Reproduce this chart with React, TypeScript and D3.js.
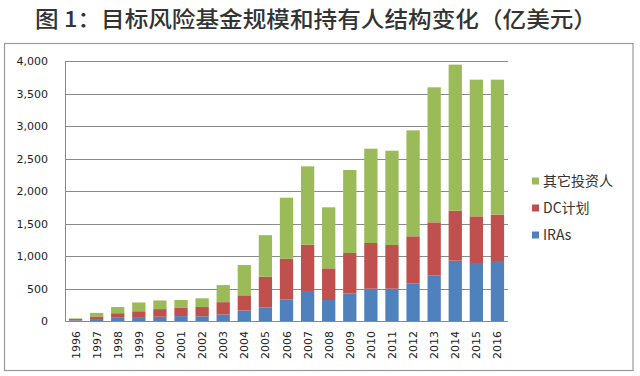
import React from "react";
import * as d3 from "d3";

const years = ["1996","1997","1998","1999","2000","2001","2002","2003","2004","2005","2006","2007","2008","2009","2010","2011","2012","2013","2014","2015","2016"];
const iras = [10, 30, 50, 60, 65, 75, 72, 100, 160, 210, 333, 462, 323, 426, 497, 497, 580, 703, 928, 892, 923];
const dc = [20, 40, 70, 90, 118, 133, 143, 190, 235, 470, 625, 712, 487, 620, 703, 672, 723, 815, 769, 718, 713];
const other = [10, 55, 95, 135, 133, 115, 134, 262, 467, 640, 939, 1205, 939, 1277, 1451, 1451, 1630, 2077, 2247, 2103, 2077];
const yTicks = [0, 500, 1000, 1500, 2000, 2500, 3000, 3500, 4000];
const seriesNames = ["IRAs", "DC计划", "其它投资人"];
const seriesColors = ["#4F81BD", "#C0504D", "#9BBB59"];
const title = "图 1：目标风险基金规模和持有人结构变化（亿美元）";

export default function App() {
  const W = 640, H = 376;
  const left = 65, right = 508, top = 61, bottom = 321;
  const x = d3.scaleBand<string>().domain(years).range([left, right]).paddingInner(0.37).paddingOuter(0.185);
  const y = d3.scaleLinear().domain([0, 4000]).range([bottom, top]);
  const rows = years.map((yr, i) => ({ year: yr, IRAs: iras[i], DC: dc[i], other: other[i] }));
  const stack = d3.stack<any>().keys(["IRAs", "DC", "other"]);
  const layers = stack(rows);
  const fmt = d3.format(",");
  const axisFont = "'DejaVu Sans', Verdana, sans-serif";
  const cjkFont = "'Noto Sans CJK SC', sans-serif";
  const legendOrder = [2, 1, 0];

  return (
    <svg width={W} height={H} style={{ position: "absolute", left: 0, top: 0, background: "#fff" }}>
      <rect x={0} y={0} width={W} height={H} fill="#fff" />
      <text x={35} y={27} fontFamily={cjkFont} fontSize={22} fontWeight={500} fill="#333"
        textLength={562} lengthAdjust="spacingAndGlyphs">{title}</text>
      <rect x={4.5} y={43.5} width={628.5} height={327} fill="none" stroke="#9a9a9a" strokeWidth={1.2} />
      {yTicks.map((t) => (
        <g key={t}>
          {t > 0 && <line x1={left} x2={right} y1={Math.round(y(t)) + 0.5} y2={Math.round(y(t)) + 0.5} stroke="#8a8a8a" strokeWidth={1} />}
          <text x={48} y={y(t) + 4} textAnchor="end" fontFamily={axisFont} fontSize={11} fill="#222">{fmt(t)}</text>
        </g>
      ))}
      {layers.map((layer, li) => (
        <g key={li} fill={seriesColors[li]}>
          {layer.map((d, i) => (
            <rect key={i} x={x(years[i])} width={x.bandwidth()} y={y(d[1])} height={y(d[0]) - y(d[1])} />
          ))}
        </g>
      ))}
      <line x1={left + 0.5} x2={left + 0.5} y1={top} y2={bottom} stroke="#8a8a8a" strokeWidth={1} />
      <line x1={left} x2={right} y1={bottom + 0.5} y2={bottom + 0.5} stroke="#8a8a8a" strokeWidth={1} />
      {years.map((yr) => {
        const cx = (x(yr) as number) + x.bandwidth() / 2;
        return (
          <text key={yr} transform={`translate(${cx + 4},331) rotate(-90)`} textAnchor="end"
            fontFamily={axisFont} fontSize={11} fill="#222">{yr}</text>
        );
      })}
      {legendOrder.map((si, k) => {
        const ly = 181 + k * 27;
        return (
          <g key={si}>
            <rect x={532} y={ly - 3.5} width={7} height={7} fill={seriesColors[si]} />
            <text x={543} y={ly + 5} fontFamily={cjkFont} fontSize={14} fill="#333">{seriesNames[si]}</text>
          </g>
        );
      })}
    </svg>
  );
}
